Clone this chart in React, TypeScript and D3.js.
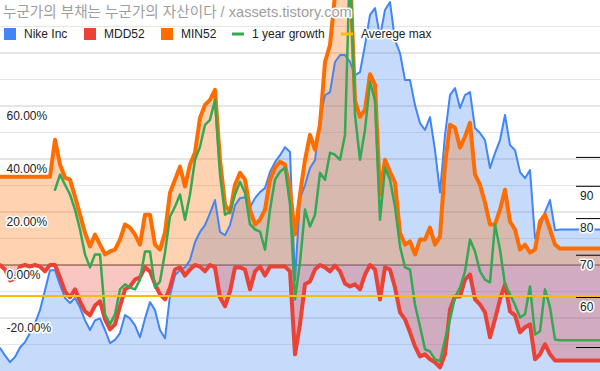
import React from 'react';
import * as d3 from 'd3';

// Nike Inc price (right axis, log scale), one value every ~5px of the original chart
const nike = [
  49.9, 48.6, 47.4, 48.3, 50.0, 51.0, 52.7, 54.6, 57.3, 61.6,
  66.3, 66.3, 62.8, 59.9, 58.8, 59.9, 57.9, 55.2, 53.3, 55.2,
  55.6, 53.3, 50.8, 51.4, 52.7, 56.3, 55.6, 54.2, 51.9, 55.6,
  59.0, 57.3, 53.3, 51.7, 60.5, 65.1, 66.3, 67.0, 68.8, 73.4,
  76.2, 78.1, 81.6, 85.6, 76.2, 75.3, 78.1, 84.0, 86.2, 86.5,
  83.4, 86.2, 88.1, 89.4, 94.8, 98.3, 100.8, 103.8, 102.0, 63.9,
  86.2, 90.4, 96.2, 99.0, 115.4, 125.5, 126.9, 141.6, 145.2, 145.2,
  141.6, 135.0, 136.5, 150.6, 168.1, 172.4, 155.1, 171.2, 176.2, 153.4,
  146.3, 132.6, 132.6, 121.0, 113.3, 110.5, 115.8, 102.7, 88.0, 108.5,
  125.5, 128.8, 119.7, 125.5, 126.9, 111.3, 109.3, 106.5, 96.2, 101.6,
  106.5, 116.7, 104.6, 102.7, 94.8, 92.7, 95.5, 74.5, 77.3, 81.9,
  85.6, 76.7, 76.9, 76.9, 76.9, 76.9, 76.9, 76.9, 76.9, 76.9,
  76.9,
];

// MDD52 (%)
const mdd52 = [
  0, -1.7, -5.8, -5.1, -0.6, 0, -0.6, 0, -0.6, -2.4,
  0, 0, -4.7, -10.0, -12.2, -9.2, -13.7, -17.5, -19.0, -15.3,
  -13.7, -20.5, -24.3, -22.4, -15.6, -9.2, -8.1, -5.5, -4.7, -0.9,
  -2.4, -7.3, -11.1, -13.0, -8.5, -1.7, -0.9, -4.0, -1.7, 0,
  -0.6, -2.4, 0, -0.9, -12.2, -15.6, -10.0, -0.9, -0.9, -1.7,
  -9.2, -2.4, -0.6, -4.0, -0.6, -0.6, -0.6, -0.6, -2.4, -33.7,
  -22.4, -7.3, -6.2, -1.7, 0, -0.9, -2.4, -0.2, -2.4, -7.0,
  -8.1, -7.3, -9.2, -3.6, 0, -1.7, -13.0, -0.9, -1.7, -8.5,
  -17.9, -20.5, -25.4, -30.7, -34.5, -33.7, -35.6, -36.7, -38.6, -33.7,
  -16.8, -11.9, -11.9, -5.5, -3.6, -13.0, -14.9, -17.9, -27.3, -20.5,
  -13.0, -7.3, -17.5, -19.0, -25.4, -23.5, -22.4, -35.6, -33.7, -29.9,
  -33.7, -36.0, -36.0, -36.0, -36.0, -36.0, -36.0, -36.0, -36.0, -36.0,
  -36.0,
];

// MIN52 (%)
const min52 = [
  33.3, 33.3, 33.3, 33.3, 33.3, 33.3, 33.3, 33.3, 33.3, 33.3,
  33.3, 47.3, 37.9, 33.0, 32.2, 25.8, 19.0, 12.2, 7.0, 11.5,
  7.7, 4.0, 5.1, 5.8, 9.6, 15.3, 14.1, 11.5, 7.7, 19.0,
  19.0, 7.7, 5.8, 12.2, 27.3, 32.2, 37.1, 29.6, 37.9, 42.4,
  55.5, 60.4, 62.3, 66.1, 39.7, 22.8, 19.8, 30.3, 34.8, 32.2,
  20.9, 15.3, 17.1, 20.9, 32.2, 36.7, 39.0, 37.9, 28.4, 11.5,
  26.6, 39.7, 49.1, 43.5, 52.9, 76.6, 83.0, 101.8, 107.5, 105.6,
  112.0, 62.0, 55.9, 58.6, 72.0, 68.0, 26.6, 39.7, 35.2, 31.1,
  12.2, 7.7, 8.9, 4.0, 9.6, 9.6, 14.1, 7.7, 10.7, 37.9,
  52.9, 51.8, 44.3, 48.4, 53.7, 34.1, 30.3, 23.5, 15.3, 15.3,
  20.9, 28.4, 16.4, 13.4, 5.8, 7.7, 4.7, 5.8, 16.4, 19.0,
  13.4, 7.7, 6.2, 6.2, 6.2, 6.2, 6.2, 6.2, 6.2, 6.2,
  6.2,
];

// 1 year growth (%), empty during the first year
const growth: (number | null)[] = [
  null, null, null, null, null, null, null, null, null, null,
  null, 28.4, 34.1, 30.3, 26.6, 20.9, 13.4, 4.0, -0.9, 4.0,
  4.0, -18.6, -22.4, -18.6, -9.2, -7.3, -8.5, -9.2, -5.5, 5.1,
  5.1, -8.5, -6.2, 4.7, 18.3, 22.0, 26.6, 17.1, 26.6, 39.7,
  44.6, 52.9, 54.8, 62.3, 34.1, 19.0, 20.0, 26.6, 31.4, 27.3,
  15.3, 13.4, 12.6, 5.8, 20.9, 32.2, 35.2, 36.7, 22.8, -13.0,
  0.9, 20.9, 14.5, 19.0, 34.8, 32.2, 42.4, 41.6, 39.7, 49.1,
  115.0, 56.7, 39.7, 51.0, 69.1, 62.0, 17.1, 36.7, 32.2, 22.0,
  7.0, -0.9, -1.7, -15.0, -23.2, -31.8, -32.6, -35.6, -36.3, -28.1,
  -20.5, -12.2, -8.5, -2.4, 9.6, 5.1, -2.4, -5.5, -6.6, 15.3,
  5.8, -7.3, -11.1, -15.0, -19.8, -18.6, -8.1, -26.2, -25.0, -9.2,
  -16.0, -28.1, -28.4, -28.4, -28.4, -28.4, -28.4, -28.4, -28.4, -28.4,
  -28.4,
];

const averageMax = -11.7;

const majorTicks = [-20, 20, 40, 60, 80];
const minorTicks = [-30, -10, 10, 30, 50, 70, 90];
const pctLabels = [60, 40, 20, 0, -20];
const priceTicks = [100, 90, 80, 70, 60, 50];
const priceLabels = ['', '90', '80', '70', '60', ''];

const title = '누군가의 부채는 누군가의 자산이다 / xassets.tistory.com';

const legend = [
  { label: 'Nike Inc', color: '#4285f4', kind: 'box', x: 4 },
  { label: 'MDD52', color: '#ea4335', kind: 'box', x: 84 },
  { label: 'MIN52', color: '#ff6d01', kind: 'box', x: 161 },
  { label: '1 year growth', color: '#34a853', kind: 'line', x: 232 },
  { label: 'Averege max', color: '#fbbc04', kind: 'line', x: 341 },
];

const W = 600;
const H = 371;
const font = "'Liberation Sans', Arial, 'Noto Sans CJK KR', sans-serif";
const halo = { paintOrder: 'stroke' as const, stroke: '#fff', strokeWidth: 3, strokeLinejoin: 'round' as const };

export default function App() {
  const n = nike.length;
  const x = d3.scaleLinear().domain([0, n - 1]).range([0, W]);
  const yL = d3.scaleLinear().domain([-40, 100]).range([H, 0]);
  const yR = d3.scaleLog().domain([45.9, 177.5]).range([H, 0]);

  const blueArea = d3.area<number>().x((d, i) => x(i)).y0(H).y1((d) => yR(d));
  const blueLine = d3.line<number>().x((d, i) => x(i)).y((d) => yR(d));
  const pctArea = d3.area<number>().x((d, i) => x(i)).y0(yL(0)).y1((d) => yL(d));
  const pctLine = d3.line<number>().x((d, i) => x(i)).y((d) => yL(d));
  const growthLine = d3
    .line<number | null>()
    .defined((d) => d != null)
    .x((d, i) => x(i))
    .y((d) => yL(d as number));

  return (
    <svg width={W} height={H} style={{ position: 'absolute', left: 0, top: 0, fontFamily: font }}>
      <defs>
        <clipPath id="plot">
          <rect x={0} y={0} width={W} height={H} />
        </clipPath>
      </defs>
      <rect width={W} height={H} fill="#fff" />

      {minorTicks.map((t) => (
        <line key={'mi' + t} x1={0} x2={W} y1={yL(t)} y2={yL(t)} stroke="#e6e6e6" />
      ))}
      {majorTicks.map((t) => (
        <line key={'ma' + t} x1={0} x2={W} y1={yL(t)} y2={yL(t)} stroke="#cccccc" />
      ))}
      <line x1={0} x2={W} y1={yL(0)} y2={yL(0)} stroke="#333" />

      <g clipPath="url(#plot)" strokeLinejoin="round" strokeLinecap="round">
        <path d={blueArea(nike) ?? ''} fill="#4285f4" fillOpacity={0.3} />
        <path d={pctArea(mdd52) ?? ''} fill="#ea4335" fillOpacity={0.3} />
        <path d={pctArea(min52) ?? ''} fill="#ff6d01" fillOpacity={0.3} />
        <path d={blueLine(nike) ?? ''} fill="none" stroke="#4285f4" strokeWidth={2} />
        <path d={pctLine(mdd52) ?? ''} fill="none" stroke="#ea4335" strokeWidth={4} />
        <path d={pctLine(min52) ?? ''} fill="none" stroke="#ff6d01" strokeWidth={4} />
        <path d={growthLine(growth) ?? ''} fill="none" stroke="#34a853" strokeWidth={2.5} />
        <line x1={0} x2={W} y1={yL(averageMax)} y2={yL(averageMax)} stroke="#fbbc04" strokeWidth={2} />
      </g>

      {priceTicks.map((t, i) => (
        <g key={'p' + t}>
          <line x1={576} x2={W} y1={yR(t)} y2={yR(t)} stroke="#000" />
          {priceLabels[i] && (
            <text x={580} y={yR(t) + 13.5} fontSize={12} fill="#222" style={halo}>
              {priceLabels[i]}
            </text>
          )}
        </g>
      ))}

      {pctLabels.map((t) => (
        <text key={'l' + t} x={6.5} y={yL(t) + 13.5} fontSize={12} fill="#222" style={halo}>
          {`${t.toFixed(2)}%`}
        </text>
      ))}

      <text x={3} y={17} fontSize={14.6} fill="#9e9e9e" style={halo}>
        {title}
      </text>

      {legend.map((d) => (
        <g key={d.label}>
          {d.kind === 'box' ? (
            <rect x={d.x} y={28} width={12} height={12} fill={d.color} />
          ) : (
            <line x1={d.x} x2={d.x + 12} y1={34} y2={34} stroke={d.color} strokeWidth={3} />
          )}
          <text x={d.x + 20} y={38} fontSize={12} fill="#222" style={halo}>
            {d.label}
          </text>
        </g>
      ))}
    </svg>
  );
}
